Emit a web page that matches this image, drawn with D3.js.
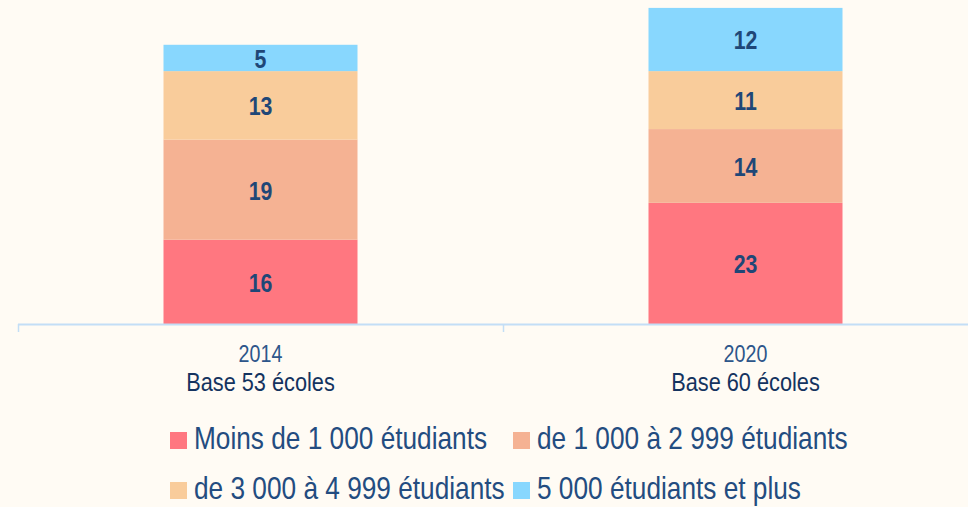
<!DOCTYPE html>
<html>
<head>
<meta charset="utf-8">
<script src="https://cdn.jsdelivr.net/npm/d3@7"></script>
<style>
  body { margin: 0; background: #fffbf4; }
  svg { display: block; font-family: "Liberation Sans Narrow", "Arial Narrow", "Liberation Sans", sans-serif; }
</style>
</head>
<body>
<script>
var w = 968;
var h = 507;
var narrow = 0.82; // no narrow font installed, squeeze Liberation Sans

// data
var years = ["2014", "2020"];
var bases = ["Base 53 écoles", "Base 60 écoles"];
var seriesNames = ["Moins de 1 000 étudiants", "de 1 000 à 2 999 étudiants", "de 3 000 à 4 999 étudiants", "5 000 étudiants et plus"];
var moins1000 = [16, 23];
var de1000 = [19, 14];
var de3000 = [13, 11];
var plus5000 = [5, 12];
var colors = ["#ff7780", "#f5b293", "#f9cc9b", "#88d7fe"];

var rows = years.map(function(y, i) {
  return { year: y, base: bases[i], s0: moins1000[i], s1: de1000[i], s2: de3000[i], s3: plus5000[i] };
});
var stack = d3.stack().keys(["s0", "s1", "s2", "s3"]);
var stacked = stack(rows);

var svg = d3.select("body").append("svg")
  .attr("width", w)
  .attr("height", h);

function place(px, py) {
  return "translate(" + px + "," + py + ") scale(" + narrow + ",1)";
}

var baseY = 324;
var x = d3.scaleBand()
  .domain(years)
  .range([18, 988]);
var y = d3.scaleLinear()
  .domain([0, 61.5])
  .range([baseY, 0]);

var barW = x.bandwidth() * 0.4;

var layer = svg.selectAll("g.layer")
  .data(stacked)
  .join("g")
  .attr("class", "layer")
  .attr("fill", function(d, i) { return colors[i]; });

layer.selectAll("rect")
  .data(function(d) { return d; })
  .join("rect")
  .attr("x", function(d) { return x(d.data.year) + (x.bandwidth() - barW) / 2; })
  .attr("width", barW)
  .attr("y", function(d) { return y(d[1]); })
  .attr("height", function(d) { return y(d[0]) - y(d[1]); });

layer.selectAll("text")
  .data(function(d) { return d; })
  .join("text")
  .attr("transform", function(d) {
    return place(x(d.data.year) + x.bandwidth() / 2, (y(d[0]) + y(d[1])) / 2);
  })
  .attr("dy", "0.38em")
  .attr("text-anchor", "middle")
  .attr("fill", "#1f4777")
  .attr("font-weight", "bold")
  .attr("font-size", 26)
  .text(function(d) { return d[1] - d[0]; });

// axis
svg.append("line")
  .attr("x1", 18).attr("x2", w)
  .attr("y1", baseY + 0.5).attr("y2", baseY + 0.5)
  .attr("stroke", "#c3def6").attr("stroke-width", 2);

svg.selectAll("line.tick")
  .data(years)
  .join("line")
  .attr("class", "tick")
  .attr("x1", function(d) { return x(d) + 0.5; })
  .attr("x2", function(d) { return x(d) + 0.5; })
  .attr("y1", baseY).attr("y2", baseY + 8)
  .attr("stroke", "#c3def6").attr("stroke-width", 1.5);

var lab = svg.selectAll("g.xlab")
  .data(rows)
  .join("g")
  .attr("class", "xlab");

lab.append("text")
  .attr("transform", function(d) { return place(x(d.year) + x.bandwidth() / 2, 362); })
  .attr("text-anchor", "middle")
  .attr("fill", "#2d568a")
  .attr("font-size", 24)
  .text(function(d) { return d.year; });

lab.append("text")
  .attr("transform", function(d) { return place(x(d.year) + x.bandwidth() / 2, 391); })
  .attr("text-anchor", "middle")
  .attr("fill", "#14335f")
  .attr("font-size", 26.5)
  .text(function(d) { return d.base; });

// legend
var legX = [170, 513];
var legY = [449, 499];
var leg = svg.selectAll("g.leg")
  .data(seriesNames)
  .join("g")
  .attr("class", "leg")
  .attr("transform", function(d, i) { return "translate(" + legX[i % 2] + "," + legY[Math.floor(i / 2)] + ")"; });

leg.append("rect")
  .attr("x", 0).attr("y", -17)
  .attr("width", 17).attr("height", 17)
  .attr("fill", function(d, i) { return colors[i]; });

leg.append("text")
  .attr("transform", place(24, 0))
  .attr("fill", "#234c80")
  .attr("font-size", 32)
  .text(function(d) { return d; });
</script>
</body>
</html>
